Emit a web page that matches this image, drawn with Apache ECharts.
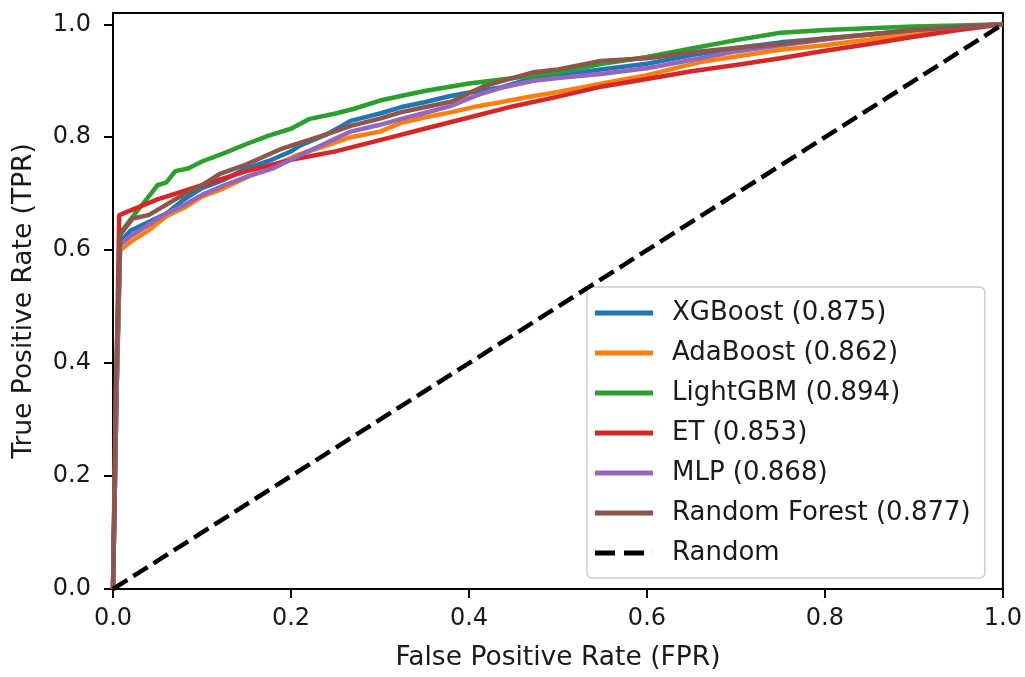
<!DOCTYPE html>
<html>
<head>
<meta charset="utf-8">
<script src="https://cdn.jsdelivr.net/npm/echarts@6/dist/echarts.min.js"></script>
<style>
  html, body { margin: 0; padding: 0; background: #fff; }
  #chart { width: 1025px; height: 677px; }
</style>
</head>
<body>
<div id="chart"></div>
<script>
// ROC curves, points are [FPR, TPR]
var xgboost = [[0,0],[0.004,0.35],[0.008,0.615],[0.02,0.635],[0.04,0.65],[0.06,0.665],[0.08,0.69],[0.1,0.71],[0.125,0.725],[0.15,0.745],[0.175,0.758],[0.2,0.775],[0.21,0.785],[0.24,0.805],[0.267,0.829],[0.3,0.842],[0.323,0.853],[0.35,0.862],[0.379,0.873],[0.41,0.882],[0.435,0.888],[0.472,0.905],[0.5,0.91],[0.548,0.92],[0.6,0.93],[0.66,0.948],[0.7,0.958],[0.75,0.968],[0.8,0.975],[0.85,0.982],[0.9,0.989],[0.95,0.995],[1,1]];
var adaboost = [[0,0],[0.004,0.35],[0.008,0.6],[0.02,0.615],[0.04,0.635],[0.06,0.66],[0.08,0.675],[0.1,0.695],[0.125,0.71],[0.154,0.732],[0.18,0.75],[0.21,0.77],[0.24,0.785],[0.267,0.8],[0.3,0.81],[0.323,0.825],[0.35,0.835],[0.379,0.844],[0.41,0.855],[0.435,0.862],[0.47,0.872],[0.5,0.88],[0.548,0.895],[0.6,0.91],[0.66,0.933],[0.7,0.943],[0.75,0.955],[0.8,0.963],[0.85,0.973],[0.9,0.983],[0.95,0.992],[1,1]];
var lightgbm = [[0,0],[0.004,0.35],[0.008,0.63],[0.02,0.655],[0.03,0.675],[0.04,0.695],[0.05,0.715],[0.06,0.72],[0.07,0.74],[0.085,0.745],[0.1,0.757],[0.125,0.772],[0.15,0.788],[0.175,0.803],[0.2,0.815],[0.22,0.832],[0.25,0.842],[0.27,0.85],[0.3,0.865],[0.35,0.882],[0.4,0.895],[0.45,0.905],[0.5,0.915],[0.55,0.93],[0.6,0.942],[0.65,0.957],[0.7,0.972],[0.75,0.985],[0.8,0.99],[0.85,0.993],[0.9,0.996],[0.95,0.998],[1,1]];
var et = [[0,0],[0.003,0.3],[0.007,0.662],[0.05,0.69],[0.1,0.715],[0.15,0.74],[0.2,0.76],[0.25,0.775],[0.3,0.795],[0.35,0.815],[0.4,0.835],[0.45,0.855],[0.5,0.872],[0.55,0.89],[0.6,0.903],[0.65,0.917],[0.7,0.928],[0.75,0.94],[0.8,0.953],[0.85,0.965],[0.9,0.978],[0.95,0.99],[1,1]];
var mlp = [[0,0],[0.004,0.35],[0.008,0.61],[0.02,0.625],[0.04,0.645],[0.06,0.665],[0.08,0.68],[0.1,0.698],[0.125,0.715],[0.154,0.732],[0.18,0.745],[0.21,0.768],[0.24,0.79],[0.267,0.81],[0.3,0.822],[0.323,0.832],[0.35,0.843],[0.379,0.855],[0.41,0.875],[0.435,0.887],[0.472,0.9],[0.5,0.905],[0.548,0.912],[0.6,0.922],[0.66,0.94],[0.7,0.952],[0.75,0.963],[0.8,0.973],[0.85,0.982],[0.9,0.99],[0.95,0.995],[1,1]];
var randomForest = [[0,0],[0.003,0.35],[0.008,0.627],[0.022,0.656],[0.04,0.662],[0.07,0.69],[0.1,0.715],[0.12,0.735],[0.147,0.75],[0.19,0.78],[0.21,0.79],[0.24,0.805],[0.267,0.82],[0.3,0.833],[0.323,0.844],[0.35,0.853],[0.38,0.863],[0.416,0.89],[0.45,0.905],[0.472,0.915],[0.5,0.92],[0.548,0.935],[0.6,0.94],[0.66,0.952],[0.7,0.958],[0.75,0.965],[0.8,0.975],[0.85,0.982],[0.9,0.99],[0.95,0.995],[1,1]];
var randomLine = [[0,0],[1,1]];

var seriesNames = ['XGBoost (0.875)', 'AdaBoost (0.862)', 'LightGBM (0.894)', 'ET (0.853)', 'MLP (0.868)', 'Random Forest (0.877)', 'Random'];
var seriesColors = ['#1f77b4', '#ff7f0e', '#2ca02c', '#d62728', '#9467bd', '#8c564b', '#000000'];
var seriesData = [xgboost, adaboost, lightgbm, et, mlp, randomForest, randomLine];
var tickValues = [0, 0.2, 0.4, 0.6, 0.8, 1.0];

var font = 'DejaVu Sans';
var chart = echarts.init(document.getElementById('chart'));

var series = seriesData.map(function (d, i) {
    var dashed = seriesNames[i] === 'Random';
    return {
        name: seriesNames[i],
        type: 'line',
        data: d,
        symbol: 'none',
        showSymbol: false,
        color: seriesColors[i],
        lineStyle: { color: seriesColors[i], width: 4.5, type: dashed ? [17, 7] : 'solid' },
        z: 2 + i
    };
});

function axisCommon() {
    return {
        type: 'value',
        min: 0,
        splitLine: { show: false },
        axisLine: { show: true, lineStyle: { color: '#000', width: 2 } },
        axisTick: { show: true, inside: false, length: 9, lineStyle: { color: '#000', width: 2 }, customValues: tickValues },
        axisLabel: {
            color: '#1a1a1a', fontFamily: font, fontSize: 24,
            customValues: tickValues,
            formatter: function (v) { return v.toFixed(1); }
        },
        nameLocation: 'middle',
        nameTextStyle: { color: '#1a1a1a', fontFamily: font, fontSize: 26.5 }
    };
}

var xAxis = axisCommon();
xAxis.max = 1;
xAxis.name = 'False Positive Rate (FPR)';
xAxis.nameGap = 56;
xAxis.axisLabel.margin = 18;

var yAxis = axisCommon();
yAxis.max = 1.02;
yAxis.name = 'True Positive Rate (TPR)';
yAxis.nameGap = 75;
yAxis.axisLabel.margin = 22;

// legend handles: flat bars, dashed one for the Random diagonal
var dashIcon = 'path://M0,0L20,0L20,5L0,5Z M29,0L49,0L49,5L29,5Z M57.9,0L58,0L58,5L57.9,5Z';
var legendData = seriesNames.map(function (n) {
    return { name: n, icon: n === 'Random' ? dashIcon : 'rect' };
});

var option = {
    animation: false,
    backgroundColor: '#fff',
    grid: {
        left: 113, right: 22, top: 13, bottom: 84,
        show: true, borderColor: '#000', borderWidth: 2, backgroundColor: 'transparent'
    },
    legend: {
        data: legendData,
        orient: 'vertical',
        left: 587,
        top: 287,
        itemWidth: 58,
        itemHeight: 5,
        itemGap: 14,
        padding: [13, 14, 12, 8],
        selectedMode: false,
        backgroundColor: 'rgba(255,255,255,0.8)',
        borderColor: '#cccccc',
        borderWidth: 1.5,
        borderRadius: 5,
        textStyle: { color: '#1a1a1a', fontFamily: font, fontSize: 26, lineHeight: 26, padding: [0, 0, 0, 14] }
    },
    xAxis: xAxis,
    yAxis: yAxis,
    series: series
};

chart.setOption(option);
</script>
</body>
</html>
